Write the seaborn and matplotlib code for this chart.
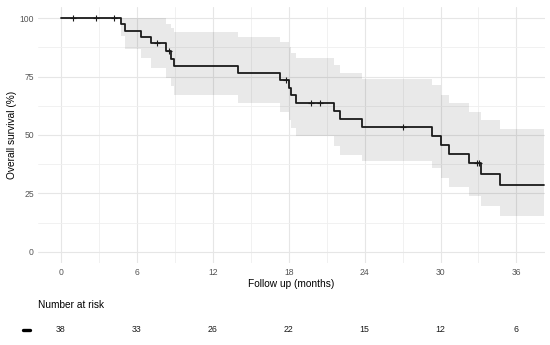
import matplotlib
matplotlib.use("Agg")
import matplotlib.pyplot as plt
import seaborn as sns
import pandas as pd

# Kaplan-Meier estimate (months, %)
event_times = [0, 4.77, 5.03, 6.31, 7.08, 8.29, 8.71, 8.95, 13.97, 17.30, 18.00, 18.19,
               18.60, 21.55, 22.08, 23.81, 29.36, 30.07, 30.65, 32.26, 33.18, 34.68, 38.2]
survival = [100, 97.4, 94.7, 92.1, 89.5, 86.0, 82.7, 79.4, 76.7, 73.5, 70.0, 67.2,
            63.9, 60.3, 56.9, 53.3, 49.6, 45.6, 41.7, 37.9, 33.4, 28.6, 28.6]
ci_lower = [100, 92.3, 87.0, 82.8, 78.6, 74.6, 70.8, 67.3, 63.5, 60.0, 56.4, 52.9,
            49.5, 45.2, 41.5, 38.8, 35.7, 31.4, 27.9, 24.0, 19.5, 15.5, 15.5]
ci_upper = [100, 100, 100, 100, 100, 97.5, 96.0, 94.0, 92.0, 90.0, 87.9, 85.0,
            82.9, 80.0, 76.6, 73.9, 71.4, 67.1, 63.6, 60.0, 56.4, 52.4, 52.4]

censor_times = [0.98, 2.8, 4.18, 7.61, 8.52, 17.81, 19.76, 20.5, 27.02, 32.86, 33.05]
censor_surv = [100, 100, 100, 89.5, 86.0, 73.5, 63.9, 63.9, 53.3, 37.9, 37.9]

risk_times = [0, 6, 12, 18, 24, 30, 36]
risk_counts = [38, 33, 26, 22, 15, 12, 6]

W, H = 550, 345

sns.set_theme(style="whitegrid")
plt.rcParams['font.family'] = ['Liberation Sans', 'DejaVu Sans']

fig = plt.figure(figsize=(W / 100, H / 100), dpi=100)
ax = fig.add_axes([38 / W, 1 - 263.4 / H, (545 - 38) / W, (263.4 - 6.6) / H])

km = pd.DataFrame({'time': event_times, 'surv': survival, 'lo': ci_lower, 'hi': ci_upper})

ax.fill_between(km['time'], km['lo'], km['hi'], step='post', color='black', alpha=0.085,
                linewidth=0, zorder=2)
sns.lineplot(data=km, x='time', y='surv', drawstyle='steps-post', estimator=None,
             color='#1a1a1a', linewidth=1.3, ax=ax, zorder=3)
ax.plot(censor_times, censor_surv, linestyle='none', marker='+', markersize=5,
        markeredgewidth=0.8, color='#1a1a1a', zorder=4)

ax.set_xlim(-1.82, 38.26)
ax.set_ylim(-5, 105)
ax.set_xticks(range(0, 37, 6))
ax.set_xticks(range(3, 37, 6), minor=True)
ax.set_yticks([0, 25, 50, 75, 100])
ax.set_yticks([12.5, 37.5, 62.5, 87.5], minor=True)
ax.set_facecolor('white')
for s in ax.spines.values():
    s.set_visible(False)
ax.grid(which='major', color='#e6e6e6', linewidth=0.8)
ax.grid(which='minor', color='#efefef', linewidth=0.6)
ax.tick_params(axis='both', which='both', length=0, labelsize=6.2, labelcolor='#555555', pad=3)
ax.set_xlabel('Follow up (months)', fontsize=7.3, color='black', labelpad=1.5)
ax.set_ylabel('Overall survival (%)', fontsize=7.3, color='black', labelpad=2)

# number at risk table
ax_risk = fig.add_axes([38 / W, 1 - 341 / H, (545 - 38) / W, 23 / H], sharex=ax)
ax_risk.axis('off')
for t, n in zip(risk_times, risk_counts):
    ax_risk.text(t, 0.5, str(n), ha='center', va='center', fontsize=6.3, color='#1a1a1a')
ax_risk.set_ylim(0, 1)
fig.text(37.6 / W, 1 - 305 / H, 'Number at risk', ha='left', va='center', fontsize=7.3,
         color='black')
fig.add_artist(plt.Line2D([23 / W, 30 / W], [1 - 329.5 / H, 1 - 329.5 / H],
                          color='black', linewidth=2.4, transform=fig.transFigure))

fig.savefig('out.png', dpi=100, facecolor='white')
